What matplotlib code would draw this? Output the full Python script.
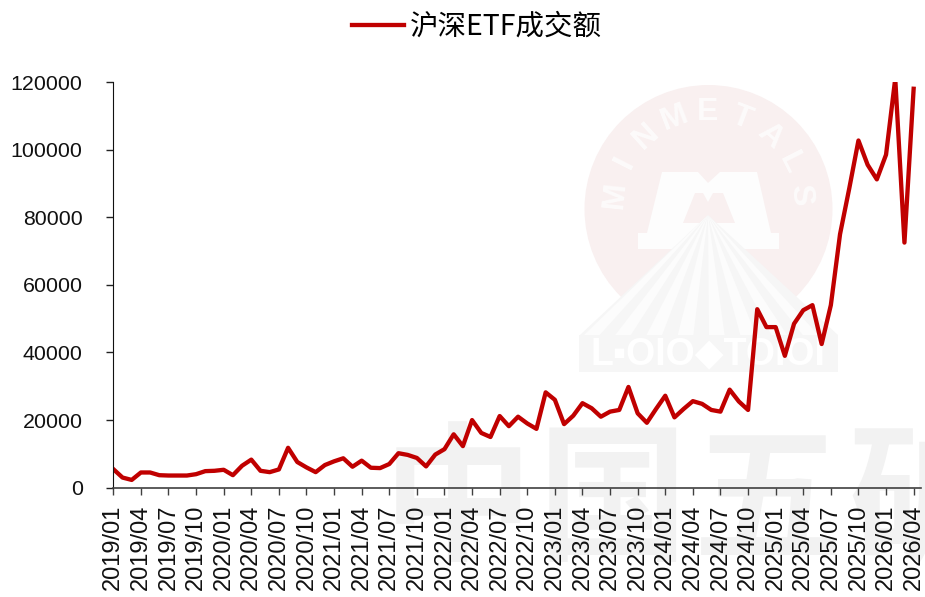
import numpy as np
import matplotlib
matplotlib.use('Agg')
import matplotlib.pyplot as plt
from matplotlib.patches import Circle, Polygon, Rectangle

# monthly turnover, 2019/01 - 2026/04
etf_turnover = [
    5500, 3000, 2300, 4500, 4500, 3700, 3600, 3600, 3600, 4000, 4900, 5000,
    5300, 3700, 6500, 8300, 5000, 4600, 5400, 11800, 7600, 6000, 4600, 6700,
    7800, 8700, 6200, 8000, 5900, 5800, 7000, 10200, 9700, 8800, 6300, 9800,
    11400, 15800, 12300, 20000, 16200, 15000, 21200, 18200, 21000, 19000, 17400, 28200,
    26000, 18800, 21300, 25000, 23500, 21000, 22500, 23000, 29800, 22000, 19200, 23300,
    27200, 20800, 23300, 25600, 24800, 23000, 22500, 29000, 25500, 23000, 52800, 47500,
    47500, 39000, 48500, 52500, 54000, 42500, 54000, 75000, 88500, 102700, 95500, 91200,
    98500, 121000, 72500, 118000,
]
tick_labels = [
    '2019/01', '2019/04', '2019/07', '2019/10', '2020/01', '2020/04', '2020/07', '2020/10',
    '2021/01', '2021/04', '2021/07', '2021/10', '2022/01', '2022/04', '2022/07', '2022/10',
    '2023/01', '2023/04', '2023/07', '2023/10', '2024/01', '2024/04', '2024/07', '2024/10',
    '2025/01', '2025/04', '2025/07', '2025/10', '2026/01', '2026/04',
]
y_ticks = [0, 20000, 40000, 60000, 80000, 100000, 120000]
series_name = '沪深ETF成交额'

plt.rcParams['font.family'] = ['Liberation Sans', 'Noto Sans CJK SC']

W, H = 925, 597
fig = plt.figure(figsize=(W / 100, H / 100), dpi=100, facecolor='white')

# watermark layer, in pixel coords
bg = fig.add_axes([0, 0, 1, 1], zorder=0)
bg.set_xlim(0, W)
bg.set_ylim(H, 0)
bg.axis('off')
bg.add_patch(Circle((708.5, 209), 124, fc='#f9f0f0', ec='none'))

for i, ch in enumerate('MINMETALS'):
    ang = np.radians((i - 4) * 21)
    bg.text(708 + 93 * np.sin(ang), 205 - 93 * np.cos(ang), ch, color='#fdfbfb', fontsize=23,
            fontweight='bold', ha='center', va='center', rotation=-np.degrees(ang),
            rotation_mode='anchor')

m_outer = [(638, 249), (638, 233), (647, 233), (662, 172), (698, 172), (708, 183), (720, 172),
           (757, 172), (771, 233), (779, 233), (779, 249)]
m_inner = [(683, 223), (695, 193), (703, 193), (708, 202), (713, 193), (723, 193), (735, 223)]
bg.add_patch(Polygon(m_outer, fc='#fdfdfd', ec='none'))
bg.add_patch(Polygon(m_inner, fc='#f9f0f0', ec='none'))

# rays under the M
bg.add_patch(Polygon([(708, 215), (580, 335), (838, 335)], fc='#f6f6f6', ec='none'))
edges = np.linspace(584, 834, 17)
for a, b in zip(edges[::2], edges[1::2]):
    bg.add_patch(Polygon([(708, 215), (a, 335), (b, 335)], fc='#fcfcfc', ec='none'))
bg.add_patch(Rectangle((579, 335), 259, 37, fc='#f6f6f6', ec='none'))
bg.text(708, 354, 'L▪OIO◆TOIOI', color='white', fontsize=27, fontweight='bold',
        family=['Liberation Sans', 'DejaVu Sans'], ha='center', va='center')

for ch, cx in zip('中国五矿', [458, 613, 768, 923]):
    bg.text(cx, 505, ch, color='#f2f2f2', fontsize=108, fontweight='bold',
            family='Noto Sans CJK SC', ha='center', va='center')

# main chart
ax = fig.add_axes([113.3 / W, (H - 487.7) / H, 807.7 / W, 405.7 / H], zorder=1)
ax.patch.set_alpha(0)
x = np.arange(len(etf_turnover))
line, = ax.plot(x, etf_turnover, color='#C00000', lw=3.1, solid_joinstyle='round', label=series_name)
ax.set_xlim(0, 87.8)
ax.set_ylim(0, 120000)
ax.set_xticks(x[::3])
ax.set_xticklabels(tick_labels, rotation=90, fontsize=17)
ax.set_yticks(y_ticks)
ax.tick_params(axis='y', length=5, width=1, pad=17, labelsize=15.4, color='#222222', labelcolor='#111111')
ax.tick_params(axis='x', length=5, width=1, pad=7, color='#404040', labelcolor='#111111')
ax.spines['top'].set_visible(False)
ax.spines['right'].set_visible(False)
ax.spines['left'].set_color('#111111')
ax.spines['bottom'].set_color('#404040')
ax.spines['bottom'].set_linewidth(1.2)

fig.legend(handles=[line], loc='center', bbox_to_anchor=(477 / W, (H - 27) / H), frameon=False,
           prop={'family': 'Noto Sans CJK SC', 'size': 20.5}, handlelength=1.83, handletextpad=0.2)

fig.savefig('out.png', dpi=100)
